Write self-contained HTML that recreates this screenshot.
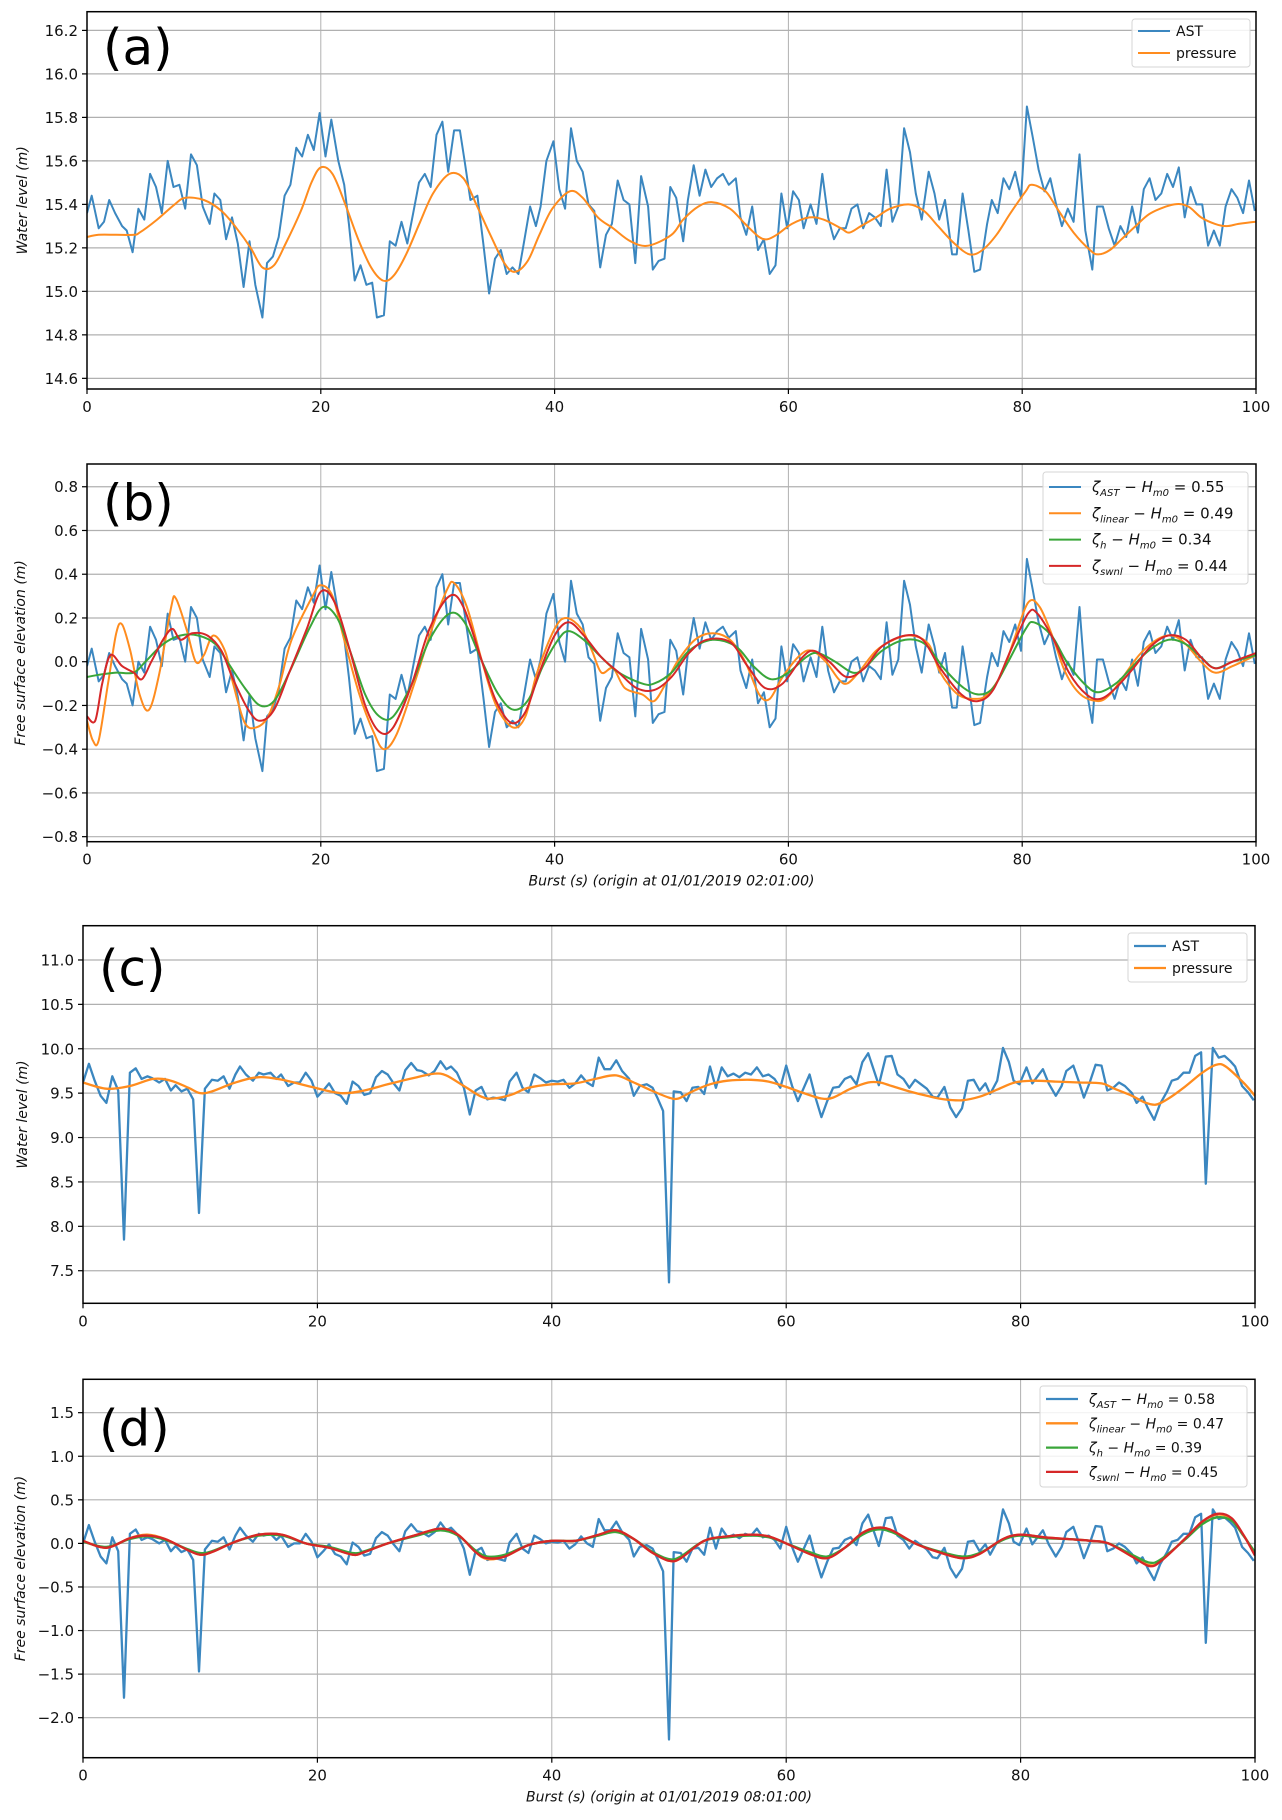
<!DOCTYPE html>
<html><head><meta charset="utf-8"><style>
html,body{margin:0;padding:0;background:#fff;}
svg text{font-family:"DejaVu Sans","Liberation Sans",sans-serif;}
</style></head><body>
<svg id="fig" width="1282" height="1815" viewBox="0 0 1282 1815" xmlns="http://www.w3.org/2000/svg"></svg>
<script>
const xTicks=[0,20,40,60,80,100];
const ticksA=[14.6,14.8,15.0,15.2,15.4,15.6,15.8,16.0,16.2];
const ticksB=[-0.8,-0.6,-0.4,-0.2,0.0,0.2,0.4,0.6,0.8];
const ticksC=[7.5,8.0,8.5,9.0,9.5,10.0,10.5,11.0];
const ticksD=[-2.0,-1.5,-1.0,-0.5,0.0,0.5,1.0,1.5];

const astTimeA=[0,0.4,1,1.45,1.9,2.4,3,3.4,3.9,4.4,4.9,5.4,5.9,6.4,6.9,7.4,7.9,8.4,8.9,9.4,9.9,10.5,10.9,11.4,11.9,12.4,12.9,13.4,13.9,14.4,15,15.4,15.9,16.4,16.9,17.4,17.9,18.4,18.9,19.4,19.9,20.4,20.9,21.5,22,22.4,22.9,23.4,23.9,24.4,24.8,25.4,25.9,26.4,26.9,27.4,27.9,28.4,28.9,29.4,29.9,30.4,30.9,31.4,31.9,32.3,32.8,33.4,33.9,34.4,34.9,35.4,35.9,36.4,36.9,37.3,37.9,38.4,38.8,39.3,39.9,40.4,40.9,41.4,41.9,42.4,42.9,43.4,43.9,44.4,44.9,45.4,45.9,46.4,46.9,47.4,48,48.4,48.9,49.4,49.9,50.4,51,51.4,51.9,52.4,52.9,53.4,53.9,54.4,54.9,55.5,55.9,56.4,56.9,57.4,57.9,58.4,58.9,59.4,59.9,60.4,60.9,61.3,61.9,62.4,62.9,63.4,63.9,64.4,64.9,65.4,65.9,66.4,66.9,67.4,67.9,68.4,68.9,69.4,69.9,70.4,70.9,71.4,72,72.5,72.9,73.4,74,74.4,74.9,75.4,75.9,76.4,77,77.4,77.9,78.4,78.9,79.4,79.9,80.4,80.9,81.4,81.9,82.4,82.9,83.4,83.9,84.4,84.9,85.4,86,86.4,86.9,87.4,87.9,88.4,88.9,89.4,89.9,90.4,90.9,91.4,91.9,92.4,92.9,93.4,93.9,94.4,94.9,95.4,95.9,96.4,96.9,97.4,97.9,98.4,98.9,99.4,99.9];
const astA=[15.36,15.44,15.29,15.32,15.42,15.36,15.30,15.28,15.18,15.38,15.33,15.54,15.48,15.36,15.60,15.48,15.49,15.38,15.63,15.58,15.39,15.31,15.45,15.42,15.24,15.34,15.22,15.02,15.23,15.03,14.88,15.13,15.16,15.25,15.44,15.49,15.66,15.62,15.72,15.65,15.82,15.62,15.79,15.60,15.49,15.31,15.05,15.12,15.03,15.04,14.88,14.89,15.23,15.21,15.32,15.22,15.36,15.50,15.54,15.48,15.72,15.78,15.55,15.74,15.74,15.60,15.42,15.44,15.22,14.99,15.15,15.19,15.08,15.11,15.08,15.20,15.39,15.30,15.39,15.60,15.69,15.47,15.38,15.75,15.60,15.55,15.40,15.37,15.11,15.26,15.31,15.51,15.42,15.40,15.13,15.53,15.39,15.10,15.14,15.15,15.48,15.43,15.23,15.42,15.58,15.44,15.56,15.48,15.52,15.54,15.49,15.52,15.34,15.26,15.39,15.19,15.24,15.08,15.12,15.45,15.29,15.46,15.42,15.29,15.40,15.31,15.54,15.34,15.24,15.29,15.29,15.38,15.40,15.29,15.36,15.34,15.30,15.56,15.32,15.39,15.75,15.64,15.45,15.33,15.55,15.45,15.33,15.42,15.17,15.17,15.45,15.28,15.09,15.10,15.31,15.42,15.36,15.52,15.47,15.55,15.43,15.85,15.71,15.56,15.46,15.52,15.40,15.30,15.38,15.32,15.63,15.28,15.10,15.39,15.39,15.29,15.21,15.30,15.25,15.39,15.27,15.47,15.52,15.42,15.45,15.54,15.48,15.57,15.34,15.48,15.40,15.40,15.21,15.28,15.21,15.39,15.47,15.43,15.36,15.51,15.37];
const presTimeA=[0,1,2.5,4,4.5,6,7.5,8.4,10,11.5,12.8,14,15,16,17,18.3,19.2,20,21,22.1,23.2,24.3,25.3,26.2,27.3,28.5,29.6,31,32.2,33.3,34.5,35.7,36.6,37.7,38.7,39.8,41.3,42.4,43.7,45,46.5,48,50,51,52.3,53.5,55,56.3,57.5,58.2,59,60.3,61.8,63,64.5,65.2,66.2,67.5,68.7,70.3,71.6,72.8,74.2,75.5,76.6,77.8,79,80.3,80.8,82,83,84.4,85.8,86.5,87.5,88.5,89.7,91,93,94.2,95.3,96.5,97.5,98.5,100];
const presA=[15.25,15.26,15.26,15.26,15.27,15.33,15.40,15.43,15.42,15.37,15.29,15.20,15.11,15.12,15.22,15.37,15.50,15.57,15.54,15.40,15.24,15.11,15.05,15.07,15.17,15.32,15.45,15.54,15.52,15.40,15.26,15.13,15.09,15.14,15.26,15.38,15.46,15.43,15.34,15.29,15.23,15.21,15.26,15.33,15.39,15.41,15.38,15.31,15.25,15.24,15.26,15.31,15.34,15.33,15.29,15.27,15.30,15.34,15.38,15.40,15.37,15.30,15.22,15.17,15.19,15.26,15.36,15.46,15.49,15.46,15.38,15.27,15.19,15.17,15.19,15.24,15.30,15.36,15.40,15.39,15.34,15.31,15.30,15.31,15.32];

const astB=[-0.02,0.06,-0.09,-0.06,0.04,-0.02,-0.08,-0.10,-0.20,0.00,-0.05,0.16,0.10,-0.02,0.22,0.10,0.11,0.00,0.25,0.20,0.01,-0.07,0.07,0.04,-0.14,-0.04,-0.16,-0.36,-0.15,-0.35,-0.50,-0.25,-0.22,-0.13,0.06,0.11,0.28,0.24,0.34,0.27,0.44,0.24,0.41,0.22,0.11,-0.07,-0.33,-0.26,-0.35,-0.34,-0.50,-0.49,-0.15,-0.17,-0.06,-0.16,-0.02,0.12,0.16,0.10,0.34,0.40,0.17,0.36,0.36,0.22,0.04,0.06,-0.16,-0.39,-0.23,-0.19,-0.30,-0.27,-0.30,-0.18,0.01,-0.08,0.01,0.22,0.31,0.09,0.00,0.37,0.22,0.17,0.02,-0.01,-0.27,-0.12,-0.07,0.13,0.04,0.02,-0.25,0.15,0.01,-0.28,-0.24,-0.23,0.10,0.05,-0.15,0.04,0.20,0.06,0.18,0.10,0.14,0.16,0.11,0.14,-0.04,-0.12,0.01,-0.19,-0.14,-0.30,-0.26,0.07,-0.09,0.08,0.04,-0.09,0.02,-0.07,0.16,-0.04,-0.14,-0.09,-0.09,0.00,0.02,-0.09,-0.02,-0.04,-0.08,0.18,-0.06,0.01,0.37,0.26,0.07,-0.05,0.17,0.07,-0.05,0.04,-0.21,-0.21,0.07,-0.10,-0.29,-0.28,-0.07,0.04,-0.02,0.14,0.09,0.17,0.05,0.47,0.33,0.18,0.08,0.14,0.02,-0.08,0.00,-0.06,0.25,-0.10,-0.28,0.01,0.01,-0.09,-0.17,-0.08,-0.13,0.01,-0.11,0.09,0.14,0.04,0.07,0.16,0.10,0.19,-0.04,0.10,0.02,0.02,-0.17,-0.10,-0.17,0.01,0.09,0.05,-0.02,0.13,-0.01];
const linTimeB=[0,0.5,1,1.8,2.5,3,3.7,4.5,5.3,6.2,7.2,7.6,8.5,9.3,10,10.8,11.8,12.5,13.5,14.5,15.5,16.5,17.5,19.3,20,21,22,23.3,24.5,25.4,26.5,28,29.5,30.8,31.4,32.5,33.8,35,36.4,37.5,38.5,40,41,42.3,43.2,44,45,46,47.5,48.5,49.5,50.5,52,53.5,55,56.3,57.5,58.4,59.5,61,62,63.2,64.3,65,66,67.5,69,70.5,72,73,74.5,76,77,78.3,79.3,80.5,81.5,82.7,83.7,85,86.5,87.5,88.5,90,91.5,92.8,94,95.3,96.5,98,100];
const linB=[-0.27,-0.36,-0.36,-0.10,0.13,0.17,0.05,-0.15,-0.22,-0.05,0.25,0.29,0.15,0.00,0.03,0.12,0.05,-0.10,-0.28,-0.30,-0.25,-0.10,0.10,0.30,0.35,0.30,0.10,-0.15,-0.32,-0.40,-0.33,-0.10,0.15,0.33,0.36,0.25,0.00,-0.20,-0.30,-0.25,-0.05,0.15,0.20,0.15,0.05,-0.05,-0.03,-0.12,-0.15,-0.18,-0.10,0.00,0.10,0.13,0.10,0.00,-0.15,-0.17,-0.07,0.03,0.05,0.00,-0.08,-0.10,-0.05,0.05,0.10,0.12,0.08,-0.05,-0.15,-0.17,-0.15,-0.05,0.10,0.27,0.25,0.10,-0.05,-0.15,-0.18,-0.15,-0.08,0.03,0.10,0.12,0.08,0.00,-0.05,-0.02,0.03];
const hTimeB=[0,1,2.5,4,5,6.5,8,9.5,11,12,13.5,14.8,16,17.3,19,20.2,21.4,22.5,23.8,25,26.2,27.8,29.3,31,32.3,33.8,35.2,36.5,37.8,39,40.3,41.2,42.5,44,45.5,47.5,48.5,50,51.5,53.5,55.5,57,58.5,60,61.5,62.5,64,65.5,66.5,68,70,71.7,73.3,75,76.3,77.5,78.8,80.3,81,82.5,83.8,85.3,86.5,88,89.3,90.8,92.5,94,95.3,96.5,98,100];
const hB=[-0.07,-0.06,-0.05,-0.05,0.00,0.08,0.12,0.12,0.08,0.00,-0.12,-0.20,-0.18,-0.05,0.15,0.25,0.20,0.05,-0.15,-0.25,-0.25,-0.10,0.10,0.22,0.18,0.00,-0.15,-0.22,-0.17,-0.02,0.10,0.14,0.10,0.02,-0.05,-0.10,-0.10,-0.05,0.05,0.10,0.07,-0.02,-0.08,-0.05,0.02,0.04,0.00,-0.05,-0.03,0.05,0.10,0.08,-0.03,-0.12,-0.15,-0.12,0.00,0.15,0.18,0.12,0.00,-0.10,-0.14,-0.10,-0.03,0.05,0.10,0.08,0.02,-0.03,0.00,0.03];
const swnlTimeB=[0,0.7,1.3,2,3,4,4.7,5.5,6.5,7.3,8,9,10.3,11.5,12.5,13.8,14.8,16,17.3,18.8,20,21.2,22.5,23.8,25,26.2,27.8,29.3,31,32.2,33.8,35,36.3,37.5,38.7,40,41.2,42.5,44,45.5,47,48.5,50,51.5,53,55,56.5,58,59.5,61.2,62.2,63.5,65,66.5,68,70,71.5,73,74.8,76.2,77.5,79,80.5,81.3,82.7,84,85.5,86.7,88,89.5,91,92.5,94,95.3,96.5,98,100];
const swnlB=[-0.25,-0.27,-0.10,0.03,-0.02,-0.05,-0.08,0.00,0.10,0.15,0.10,0.13,0.12,0.05,-0.08,-0.22,-0.27,-0.22,-0.05,0.15,0.32,0.27,0.05,-0.20,-0.32,-0.30,-0.10,0.15,0.30,0.25,0.00,-0.18,-0.28,-0.23,-0.05,0.12,0.18,0.12,0.02,-0.05,-0.12,-0.13,-0.07,0.04,0.10,0.09,-0.02,-0.12,-0.10,0.02,0.05,0.00,-0.07,-0.03,0.07,0.12,0.10,-0.03,-0.15,-0.18,-0.13,0.05,0.22,0.22,0.10,-0.05,-0.15,-0.17,-0.12,-0.03,0.07,0.12,0.10,0.02,-0.03,0.00,0.04];

const astTimeC=[0,0.5,1,1.5,2,2.5,3,3.5,4,4.5,5,5.5,5.9,6.5,7,7.5,7.9,8.4,8.9,9.4,9.9,10.4,11,11.5,12,12.5,13,13.4,13.9,14.5,15,15.4,16,16.5,16.9,17.5,18,18.5,19,19.5,20,20.5,21,21.5,22,22.5,23,23.5,24,24.5,25,25.5,26,26.5,27,27.5,28,28.5,28.9,29.5,30,30.5,31,31.4,31.9,32.5,33,33.5,34,34.5,35,35.5,36,36.4,37,37.5,38,38.5,39,39.5,40,40.5,41,41.5,42,42.5,43,43.5,44,44.5,45,45.5,46,46.6,47,47.5,48.1,48.6,49,49.5,50,50.4,51,51.5,52,52.5,53,53.5,54,54.5,55,55.5,56,56.5,57,57.5,58,58.5,59,59.5,60,60.5,61,61.5,62,62.5,63,63.5,64,64.5,65,65.5,66,66.5,67,67.5,67.9,68.5,69,69.5,70,70.5,71,71.5,72,72.5,72.9,73.5,74,74.5,75,75.5,76,76.5,77,77.4,78,78.5,79,79.4,79.9,80.5,81,81.5,81.9,82.4,83,83.5,83.9,84.5,85,85.4,85.9,86.4,86.9,87.4,87.9,88.4,88.9,89.5,89.9,90.4,90.9,91.4,91.9,92.5,92.9,93.4,93.9,94.4,94.9,95.4,95.8,96.4,96.9,97.4,97.9,98.3,98.9,99.4,99.9];
const astC=[9.62,9.83,9.64,9.47,9.39,9.69,9.53,7.85,9.73,9.78,9.66,9.69,9.67,9.62,9.66,9.53,9.59,9.52,9.55,9.43,8.15,9.55,9.65,9.64,9.69,9.55,9.71,9.80,9.71,9.64,9.73,9.71,9.73,9.66,9.71,9.58,9.62,9.62,9.73,9.64,9.46,9.53,9.61,9.50,9.47,9.38,9.63,9.58,9.48,9.50,9.68,9.75,9.71,9.61,9.53,9.76,9.84,9.76,9.75,9.70,9.75,9.86,9.77,9.80,9.73,9.56,9.26,9.53,9.57,9.43,9.45,9.44,9.42,9.63,9.73,9.56,9.51,9.71,9.67,9.62,9.64,9.63,9.65,9.56,9.61,9.70,9.62,9.58,9.90,9.77,9.77,9.87,9.75,9.66,9.47,9.58,9.60,9.56,9.45,9.30,7.37,9.52,9.51,9.41,9.56,9.57,9.49,9.80,9.56,9.79,9.69,9.72,9.68,9.73,9.71,9.79,9.69,9.71,9.66,9.56,9.81,9.58,9.41,9.56,9.71,9.45,9.23,9.41,9.56,9.57,9.66,9.69,9.60,9.85,9.95,9.75,9.59,9.91,9.92,9.71,9.66,9.56,9.65,9.60,9.55,9.46,9.45,9.57,9.34,9.23,9.33,9.64,9.65,9.53,9.61,9.49,9.64,10.01,9.85,9.64,9.60,9.79,9.61,9.70,9.77,9.61,9.47,9.58,9.75,9.81,9.62,9.45,9.62,9.82,9.81,9.53,9.56,9.62,9.58,9.50,9.39,9.46,9.32,9.20,9.38,9.52,9.64,9.66,9.73,9.73,9.92,9.96,8.48,10.01,9.90,9.92,9.86,9.80,9.58,9.51,9.42];
const presTimeC=[0,2,4,6,7.5,9,10,11,13,15,17,19.5,22,24,26,28.5,30,31,32.5,34,35,36.5,38,40,42,44,45.5,47,48.5,50,50.8,52,53.5,55,57,58.5,60,61.5,63,64,65.5,67,68,69,70.5,72,73.5,75,76.5,78,79.5,81,83,85,86.9,88,89.5,90.5,91.5,92.5,94,95.5,96.7,97.5,99,100];
const presC=[9.62,9.55,9.58,9.66,9.64,9.56,9.50,9.52,9.62,9.68,9.65,9.57,9.50,9.53,9.60,9.68,9.72,9.70,9.58,9.46,9.44,9.48,9.56,9.60,9.61,9.67,9.70,9.62,9.53,9.45,9.44,9.52,9.60,9.64,9.65,9.63,9.57,9.50,9.44,9.45,9.55,9.62,9.62,9.58,9.52,9.47,9.43,9.42,9.46,9.54,9.62,9.64,9.63,9.62,9.61,9.55,9.47,9.40,9.37,9.43,9.57,9.73,9.82,9.80,9.62,9.47];

const astD=[0.00,0.21,0.02,-0.15,-0.23,0.07,-0.09,-1.77,0.11,0.16,0.04,0.07,0.05,0.00,0.04,-0.09,-0.03,-0.10,-0.07,-0.19,-1.47,-0.07,0.03,0.02,0.07,-0.07,0.09,0.18,0.09,0.02,0.11,0.09,0.11,0.04,0.09,-0.04,0.00,0.00,0.11,0.02,-0.16,-0.09,-0.01,-0.12,-0.15,-0.24,0.01,-0.04,-0.14,-0.12,0.06,0.13,0.09,-0.01,-0.09,0.14,0.22,0.14,0.13,0.08,0.13,0.24,0.15,0.18,0.11,-0.06,-0.36,-0.09,-0.05,-0.19,-0.17,-0.18,-0.20,0.01,0.11,-0.06,-0.11,0.09,0.05,0.00,0.02,0.01,0.03,-0.06,-0.01,0.08,0.00,-0.04,0.28,0.15,0.15,0.25,0.13,0.04,-0.15,-0.04,-0.02,-0.06,-0.17,-0.32,-2.25,-0.10,-0.11,-0.21,-0.06,-0.05,-0.13,0.18,-0.06,0.17,0.07,0.10,0.06,0.11,0.09,0.17,0.07,0.09,0.04,-0.06,0.19,-0.04,-0.21,-0.06,0.09,-0.17,-0.39,-0.21,-0.06,-0.05,0.04,0.07,-0.02,0.23,0.33,0.13,-0.03,0.29,0.30,0.09,0.04,-0.06,0.03,-0.02,-0.07,-0.16,-0.17,-0.05,-0.28,-0.39,-0.29,0.02,0.03,-0.09,-0.01,-0.13,0.02,0.39,0.23,0.02,-0.02,0.17,-0.01,0.08,0.15,-0.01,-0.15,-0.04,0.13,0.19,0.00,-0.17,0.00,0.20,0.19,-0.09,-0.06,0.00,-0.04,-0.12,-0.23,-0.16,-0.30,-0.42,-0.24,-0.10,0.02,0.04,0.11,0.11,0.30,0.34,-1.14,0.39,0.28,0.30,0.24,0.18,-0.04,-0.11,-0.20];
const modelTimeD=[0,2,4,5.5,7,9,10,11,13,15,17,19,21,23,24,26,28.5,30.5,32,33.5,34.5,36,38,40,42,44,45.5,47,48.5,50,51,53,55,57,58.5,60,62,63.5,65,66.5,67.8,69,71,73,75,76.5,78.5,80,82,84,86,87.5,89.5,91,92,94,95.5,96.8,98,99,100];
const linD=[0.03,-0.05,0.06,0.10,0.05,-0.08,-0.13,-0.10,0.02,0.10,0.10,0.00,-0.05,-0.13,-0.10,0.00,0.10,0.17,0.10,-0.10,-0.18,-0.15,-0.02,0.03,0.03,0.10,0.15,0.05,-0.10,-0.20,-0.17,0.03,0.08,0.10,0.08,0.00,-0.12,-0.17,-0.05,0.12,0.18,0.15,0.00,-0.10,-0.17,-0.12,0.05,0.10,0.07,0.05,0.03,0.00,-0.15,-0.25,-0.20,0.05,0.25,0.33,0.28,0.10,-0.12];
const hD=[0.02,-0.04,0.05,0.08,0.04,-0.07,-0.11,-0.09,0.02,0.09,0.09,0.00,-0.04,-0.11,-0.09,0.00,0.09,0.15,0.09,-0.08,-0.15,-0.13,-0.02,0.03,0.03,0.09,0.13,0.05,-0.09,-0.18,-0.15,0.03,0.07,0.09,0.07,0.00,-0.10,-0.15,-0.05,0.10,0.16,0.13,0.00,-0.09,-0.15,-0.11,0.04,0.09,0.06,0.05,0.03,0.00,-0.13,-0.22,-0.18,0.04,0.22,0.30,0.26,0.09,-0.10];
const swnlD=[0.03,-0.05,0.06,0.09,0.05,-0.08,-0.13,-0.10,0.02,0.10,0.10,0.00,-0.05,-0.13,-0.10,0.00,0.10,0.17,0.10,-0.10,-0.17,-0.15,-0.02,0.03,0.03,0.10,0.15,0.05,-0.10,-0.20,-0.17,0.03,0.08,0.10,0.08,0.00,-0.12,-0.17,-0.05,0.12,0.18,0.15,0.00,-0.10,-0.17,-0.12,0.05,0.10,0.07,0.05,0.03,0.00,-0.15,-0.26,-0.20,0.05,0.25,0.34,0.29,0.10,-0.14];

const NS='http://www.w3.org/2000/svg';
const svg=document.getElementById('fig');
const BLUE='#3b87c0',ORANGE='#ff8c1e',GREEN='#3aa63a',RED='#d62728';
function mk(tag,attrs,parent){const e=document.createElementNS(NS,tag);for(const k in attrs)e.setAttribute(k,attrs[k]);(parent||svg).appendChild(e);return e;}
function linePath(xs,ys,sx,sy){let d='';const n=Math.min(xs.length,ys.length);for(let i=0;i<n;i++){d+=(i?'L':'M')+sx(xs[i]).toFixed(1)+','+sy(ys[i]).toFixed(1);}return d;}
function smoothPath(xs,ys,sx,sy){const n=Math.min(xs.length,ys.length);const P=[];for(let i=0;i<n;i++)P.push([sx(xs[i]),sy(ys[i])]);let d='M'+P[0][0].toFixed(1)+','+P[0][1].toFixed(1);for(let i=0;i<n-1;i++){const p0=P[Math.max(0,i-1)],p1=P[i],p2=P[i+1],p3=P[Math.min(n-1,i+2)];const c1=[p1[0]+(p2[0]-p0[0])/6,p1[1]+(p2[1]-p0[1])/6];const c2=[p2[0]-(p3[0]-p1[0])/6,p2[1]-(p3[1]-p1[1])/6];d+='C'+c1[0].toFixed(1)+','+c1[1].toFixed(1)+' '+c2[0].toFixed(1)+','+c2[1].toFixed(1)+' '+p2[0].toFixed(1)+','+p2[1].toFixed(1);}return d;}

function panel(cfg){
  const g=mk('g',{});
  
  
  const L=cfg.x0,R=cfg.x1,T=cfg.y0,B=cfg.y1;
  const sx=v=>L+(v-0)/(100-0)*(R-L);
  const sy=v=>B-(v-cfg.ymin)/(cfg.ymax-cfg.ymin)*(B-T);
  const grid=mk('g',{},g);
  
  
  xTicks.forEach(t=>{mk('line',{x1:sx(t),x2:sx(t),y1:T,y2:B,stroke:'#b0b0b0','stroke-width':1},grid);});
  cfg.yticks.forEach(t=>{mk('line',{x1:L,x2:R,y1:sy(t),y2:sy(t),stroke:'#b0b0b0','stroke-width':1.2},grid);});
  const clipId='clip'+cfg.name;
  const cp=mk('clipPath',{id:clipId},g);mk('rect',{x:L,y:T,width:R-L,height:B-T},cp);
  const sg=mk('g',{'clip-path':'url(#'+clipId+')'},g);
  cfg.series.forEach(s=>{
    const p=mk('path',{d:s.smooth?smoothPath(s.x,s.y,sx,sy):linePath(s.x,s.y,sx,sy),fill:'none',stroke:s.color,'stroke-width':s.w||2,'stroke-linejoin':'round'},sg);
    
    
  });
  const fr=mk('rect',{x:L,y:T,width:R-L,height:B-T,fill:'none',stroke:'#000','stroke-width':1.5},g);
  
  
  xTicks.forEach(t=>{
    mk('line',{x1:sx(t),x2:sx(t),y1:B,y2:B+5,stroke:'#000','stroke-width':1.2},g);
    const tx=mk('text',{x:sx(t),y:B+23,'text-anchor':'middle','font-size':15,fill:'#111'},g);
    tx.textContent=String(t);
    
    
  });
  cfg.yticks.forEach(t=>{
    mk('line',{x1:L-5,x2:L,y1:sy(t),y2:sy(t),stroke:'#000','stroke-width':1.2},g);
    const tx=mk('text',{x:L-9,y:sy(t)+5.5,'text-anchor':'end','font-size':15,fill:'#111'},g);
    tx.textContent=t.toFixed(1).replace('-','\u2212');
    
    
  });
  const yl=mk('text',{x:0,y:0,transform:'translate('+cfg.ylx+','+((T+B)/2)+') rotate(-90)','text-anchor':'middle','font-size':14,'font-style':'italic',fill:'#111'},g);
  yl.textContent=cfg.ylabel;
  
  
  if(cfg.xlabel){
    const xl=mk('text',{x:(L+R)/2,y:B+44,'text-anchor':'middle','font-size':14,'font-style':'italic',fill:'#111'},g);
    xl.textContent=cfg.xlabel;
    
    
  }
  const pl=mk('text',{x:L+16,y:T+cfg.labdy,'font-size':50,fill:'#000','font-family':'Liberation Sans, sans-serif'},g);
  pl.textContent=cfg.label;
  
  
  // legend
  const lg=mk('g',{},g);
  
  
  const lw=cfg.leg;
  mk('rect',{x:lw.x,y:lw.y,width:lw.w,height:lw.h,rx:3,fill:'#fff','fill-opacity':0.85,stroke:'#d6d6d6','stroke-width':1},lg);
  cfg.series.forEach((s,i)=>{
    const yy=lw.y+lw.first+i*lw.step;
    const e=mk('g',{},lg);
    
    
    mk('line',{x1:lw.x+6,x2:lw.x+38,y1:yy,y2:yy,stroke:s.color,'stroke-width':s.w||2},e);
    const t=mk('text',{x:lw.x+lw.tx,y:yy+5,'font-size':lw.fs,fill:'#111'},e);
    t.innerHTML=s.label;
  });
}
function zl(sub,val){return '<tspan font-style="italic">\u03b6</tspan><tspan font-style="italic" font-size="10" dy="4">'+sub+'</tspan><tspan dy="-4"> \u2212 </tspan><tspan font-style="italic">H</tspan><tspan font-style="italic" font-size="10" dy="4">m0</tspan><tspan dy="-4"> = '+val+'</tspan>';}

panel({name:'panel-a',x0:87,x1:1256,y0:11.7,y1:389,ymin:14.551,ymax:16.286,yticks:ticksA,ylx:27,ylabel:'Water level (m)',label:'(a)',labdy:53,
 series:[{x:astTimeA,y:astA,color:BLUE,dname:'ast-line',label:'AST'},{x:presTimeA,y:presA,color:ORANGE,smooth:true,dname:'pressure-line',label:'pressure'}],
 leg:{x:1132,y:19,w:118,h:48,first:12,step:22,tx:44,fs:14}});
panel({name:'panel-b',x0:87,x1:1256,y0:464,y1:841.7,ymin:-0.823,ymax:0.904,yticks:ticksB,ylx:25,ylabel:'Free surface elevation (m)',label:'(b)',labdy:56,xlabel:'Burst (s) (origin at 01/01/2019 02:01:00)',
 series:[{x:astTimeA,y:astB,color:BLUE,dname:'zeta-ast-line',label:zl('AST','0.55')},{x:linTimeB,y:linB,color:ORANGE,smooth:true,dname:'zeta-linear-line',label:zl('linear','0.49')},{x:hTimeB,y:hB,color:GREEN,smooth:true,dname:'zeta-h-line',label:zl('h','0.34')},{x:swnlTimeB,y:swnlB,color:RED,smooth:true,dname:'zeta-swnl-line',label:zl('swnl','0.44')}],
 leg:{x:1043,y:472,w:205,h:112,first:15,step:26.3,tx:49,fs:15}});
panel({name:'panel-c',x0:83,x1:1255,y0:925.7,y1:1303.3,ymin:7.133,ymax:11.386,yticks:ticksC,ylx:27,ylabel:'Water level (m)',label:'(c)',labdy:60,
 series:[{x:astTimeC,y:astC,color:BLUE,w:2.3,dname:'ast-line',label:'AST'},{x:presTimeC,y:presC,color:ORANGE,w:2.3,smooth:true,dname:'pressure-line',label:'pressure'}],
 leg:{x:1128,y:933,w:119,h:49,first:13,step:22,tx:44,fs:14}});
panel({name:'panel-d',x0:83,x1:1255,y0:1379.3,y1:1757.7,ymin:-2.459,ymax:1.883,yticks:ticksD,ylx:25,ylabel:'Free surface elevation (m)',label:'(d)',labdy:66,xlabel:'Burst (s) (origin at 01/01/2019 08:01:00)',
 series:[{x:astTimeC,y:astD,color:BLUE,w:2.3,dname:'zeta-ast-line',label:zl('AST','0.58')},{x:modelTimeD,y:linD,color:ORANGE,w:2.3,smooth:true,dname:'zeta-linear-line',label:zl('linear','0.47')},{x:modelTimeD,y:hD,color:GREEN,w:2.3,smooth:true,dname:'zeta-h-line',label:zl('h','0.39')},{x:modelTimeD,y:swnlD,color:RED,w:2.3,smooth:true,dname:'zeta-swnl-line',label:zl('swnl','0.45')}],
 leg:{x:1040,y:1386,w:207,h:101,first:13,step:24.3,tx:49,fs:14}});
</script>
</body></html>
